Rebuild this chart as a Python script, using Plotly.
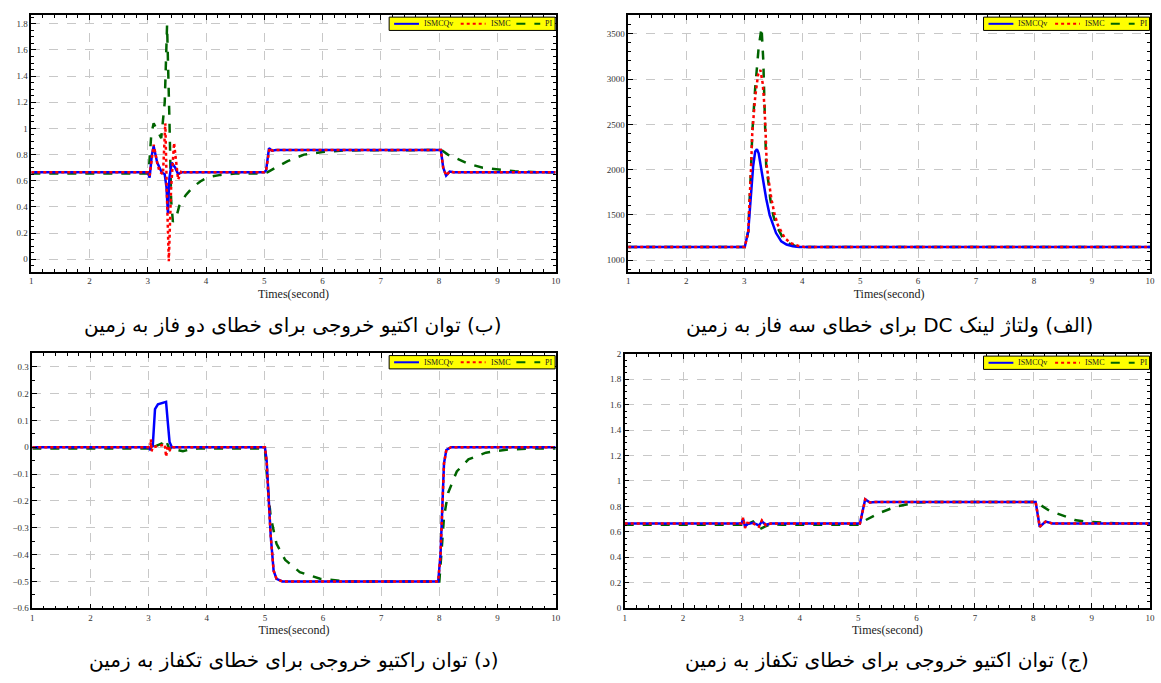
import plotly.graph_objects as go

# ---------------- data ----------------
# (ب) active power, two-phase-to-ground fault
t_b_ismcqv = [1, 3.0, 3.03, 3.07, 3.10, 3.16, 3.24, 3.29, 3.32, 3.345, 3.37, 3.41, 3.47, 3.52, 3.58,
              5.0, 5.03, 5.08, 5.13, 5.2, 8.03, 8.07, 8.12, 8.18, 8.25, 10]
y_b_ismcqv = [0.665, 0.665, 0.625, 0.80, 0.864, 0.74, 0.663, 0.65, 0.55, 0.35, 0.62, 0.738, 0.70, 0.65, 0.665,
              0.665, 0.68, 0.85, 0.83, 0.835, 0.835, 0.70, 0.64, 0.67, 0.665, 0.665]
t_b_ismc = [1, 3.0, 3.03, 3.07, 3.10, 3.16, 3.20, 3.26, 3.30, 3.33, 3.36, 3.40, 3.45, 3.52, 3.58, 3.63,
            5.0, 5.03, 5.09, 5.14, 5.2, 8.03, 8.07, 8.12, 8.18, 8.25, 10]
y_b_ismc = [0.665, 0.665, 0.64, 0.80, 0.876, 0.74, 0.67, 0.65, 1.04, 0.45, -0.015, 0.55, 0.889, 0.61, 0.68, 0.665,
            0.665, 0.68, 0.85, 0.83, 0.835, 0.835, 0.70, 0.64, 0.67, 0.665, 0.665]
t_b_pi = [1, 3.0, 3.02, 3.06, 3.10, 3.17, 3.23, 3.29, 3.33, 3.37, 3.40, 3.43, 3.49, 3.54, 3.65, 3.77, 3.9,
          4.03, 4.25, 4.5, 5.0, 5.05, 5.15, 5.4, 5.68, 6.0, 6.4, 7.0, 8.04, 8.15, 8.3, 8.5, 8.75, 9.0,
          9.3, 9.7, 10]
y_b_pi = [0.655, 0.655, 0.70, 0.96, 1.04, 0.975, 0.926, 1.20, 1.79, 1.08, 0.45, 0.286, 0.324, 0.41, 0.49,
          0.55, 0.595, 0.627, 0.645, 0.655, 0.655, 0.665, 0.69, 0.75, 0.80, 0.82, 0.832, 0.835, 0.835,
          0.80, 0.77, 0.73, 0.70, 0.685, 0.672, 0.665, 0.665]

# (الف) DC link voltage, three-phase-to-ground fault
t_a_ismcqv = [1, 3.01, 3.07, 3.11, 3.155, 3.19, 3.22, 3.25, 3.285, 3.33, 3.38, 3.44, 3.50, 3.55, 3.64,
              3.73, 3.84, 3.95, 10]
y_a_ismcqv = [1145, 1145, 1317, 1678, 2039, 2200, 2226, 2180, 2039, 1855, 1678, 1498, 1390, 1300, 1209,
              1173, 1155, 1145, 1145]
t_a_ismc = [1, 3.01, 3.07, 3.10, 3.12, 3.14, 3.19, 3.24, 3.28, 3.32, 3.35, 3.37, 3.39, 3.43, 3.47, 3.52,
            3.58, 3.70, 3.80, 3.93, 4.05, 10]
y_a_ismc = [1145, 1145, 1317, 1678, 2039, 2408, 2800, 3050, 3100, 2950, 2700, 2408, 2039, 1850, 1678, 1520,
            1390, 1245, 1190, 1160, 1145, 1145]
t_a_pi = [1, 3.01, 3.07, 3.10, 3.12, 3.14, 3.19, 3.25, 3.30, 3.33, 3.355, 3.37, 3.38, 3.42, 3.45, 3.50,
          3.55, 3.67, 3.77, 3.87, 4.0, 10]
y_a_pi = [1145, 1145, 1317, 1678, 2039, 2408, 2900, 3350, 3568, 3200, 2700, 2408, 2039, 1850, 1678, 1500,
          1390, 1245, 1185, 1160, 1145, 1145]

# (د) reactive power, single-phase-to-ground fault
t_d_ismcqv = [1, 3.0, 3.03, 3.05, 3.07, 3.09, 3.11, 3.16, 3.24, 3.30, 3.33, 3.36, 3.40,
              5.0, 5.03, 5.06, 5.1, 5.15, 5.2, 5.3, 7.98, 8.02, 8.05, 8.08, 8.12, 8.2, 10]
y_d_ismcqv = [0, 0, -0.011, 0.01, 0, 0.07, 0.142, 0.16, 0.164, 0.169, 0.094, 0.02, 0,
              0, -0.05, -0.18, -0.33, -0.46, -0.49, -0.5, -0.5, -0.4, -0.2, -0.06, -0.01, 0, 0]
t_d_ismc = [1, 3.0, 3.03, 3.04, 3.05, 3.07, 3.28, 3.30, 3.33, 3.37, 3.41,
            5.0, 5.03, 5.06, 5.1, 5.15, 5.2, 5.3, 7.98, 8.02, 8.05, 8.08, 8.12, 8.2, 10]
y_d_ismc = [0, 0, 0, 0.03, -0.015, 0, 0.01, -0.035, 0.005, -0.01, 0,
            0, -0.05, -0.18, -0.33, -0.46, -0.49, -0.5, -0.5, -0.4, -0.2, -0.06, -0.01, 0, 0]
t_d_pi = [1, 3.0, 3.03, 3.07, 3.24, 3.28, 3.31, 3.36, 3.41, 3.5, 3.59, 3.71, 3.85,
          5.0, 5.05, 5.1, 5.2, 5.35, 5.6, 5.95, 6.4, 8.0, 8.04, 8.08, 8.15, 8.3, 8.5, 8.8, 9.2, 9.6, 10]
y_d_pi = [-0.005, -0.005, -0.015, 0, 0.015, 0.03, 0.02, -0.008, 0.003, -0.01, -0.015, -0.008, -0.005,
          -0.005, -0.15, -0.26, -0.36, -0.42, -0.465, -0.49, -0.5, -0.5, -0.38, -0.26, -0.17, -0.09,
          -0.045, -0.02, -0.008, -0.005, -0.005]

# (ج) active power, single-phase-to-ground fault
t_j_ismcqv = [1, 3.0, 3.03, 3.06, 3.1, 3.2, 3.3, 3.35, 3.42, 3.5, 5.0, 5.03, 5.12, 5.2, 5.3,
              8.04, 8.11, 8.21, 8.33, 10]
y_j_ismcqv = [0.665, 0.665, 0.70, 0.64, 0.66, 0.67, 0.65, 0.68, 0.655, 0.665, 0.665, 0.665, 0.855, 0.83,
              0.835, 0.835, 0.64, 0.68, 0.665, 0.665]
t_j_ismc = [1, 3.0, 3.03, 3.06, 3.1, 3.2, 3.3, 3.35, 3.42, 3.5, 5.0, 5.03, 5.12, 5.2, 5.3,
            8.04, 8.11, 8.21, 8.33, 10]
y_j_ismc = [0.665, 0.665, 0.71, 0.63, 0.67, 0.665, 0.64, 0.69, 0.65, 0.665, 0.665, 0.665, 0.855, 0.83,
            0.835, 0.835, 0.64, 0.68, 0.665, 0.665]
t_j_pi = [1, 3.0, 3.05, 3.1, 3.2, 3.31, 3.4, 3.5, 3.7, 5.0, 5.12, 5.375, 5.66, 6.0, 6.4,
          8.04, 8.27, 8.5, 8.73, 8.9, 9.2, 9.5, 10]
y_j_pi = [0.655, 0.655, 0.69, 0.66, 0.68, 0.62, 0.64, 0.66, 0.655, 0.655, 0.69, 0.75, 0.80, 0.83, 0.835,
          0.835, 0.767, 0.73, 0.69, 0.68, 0.67, 0.665, 0.665]

series_names = ["ISMCQv", "ISMC", "PI"]
captions = [
    "(ب) توان اکتیو خروجی برای خطای دو فاز به زمین",
    "(الف) ولتاژ لینک DC برای خطای سه فاز به زمین",
    "(د) توان راکتیو خروجی برای خطای تکفاز به زمین",
    "(ج) توان اکتیو خروجی برای خطای تکفاز به زمین",
]
x_title = "Times(second)"

# ---------------- figure ----------------
W, H = 1161, 683
fig = go.Figure()

panels = [
    ((t_b_ismcqv, y_b_ismcqv, t_b_ismc, y_b_ismc, t_b_pi, y_b_pi), "", (29.5, 557), (10, 270.7),
     [-0.095, 1.868], 0.2, 0.05),
    ((t_a_ismcqv, y_a_ismcqv, t_a_ismc, y_a_ismc, t_a_pi, y_a_pi), "2", (630, 1155), (10, 270.7),
     [873, 3709], 500, 100),
    ((t_d_ismcqv, y_d_ismcqv, t_d_ismc, y_d_ismc, t_d_pi, y_d_pi), "3", (30.5, 557), (353.5, 612.3),
     [-0.6, 0.35], 0.1, 0.05),
    ((t_j_ismcqv, y_j_ismcqv, t_j_ismc, y_j_ismc, t_j_pi, y_j_pi), "4", (626.5, 1155), (354, 612),
     [0, 2], 0.2, 0.05),
]

blue = "#0000ff"
red = "#ff0000"
green = "#006400"
colors = [blue, red, green]
dashes = ["solid", "dot", "dash"]
tick_font = dict(family="Liberation Serif", size=9, color="#333333")

annotations = []
shapes = []
layout_upd = {}
for i, (d, s, (x0, x1), (yt, yb), yr, ydt, ymin) in enumerate(panels):
    tq, yq, tm, ym, tp, yp = d
    xa = "x" + s
    ya = "y" + s
    fig.add_trace(go.Scatter(x=tp, y=yp, mode="lines", name=series_names[2], xaxis=xa, yaxis=ya,
                             showlegend=False, line=dict(color=green, width=2.5, dash="dash")))
    fig.add_trace(go.Scatter(x=tq, y=yq, mode="lines", name=series_names[0], xaxis=xa, yaxis=ya,
                             showlegend=False, line=dict(color=blue, width=2.5)))
    fig.add_trace(go.Scatter(x=tm, y=ym, mode="lines", name=series_names[1], xaxis=xa, yaxis=ya,
                             showlegend=False, line=dict(color=red, width=2.5, dash="dot")))

    xd = [x0 / W, x1 / W]
    yd = [1 - yb / H, 1 - yt / H]
    axis_common = dict(showline=True, linecolor="black", linewidth=1.5, mirror="allticks",
                       ticks="inside", ticklen=5, tickcolor="black", tickwidth=1,
                       showgrid=True, gridcolor="#c8c8c8", griddash="dash", gridwidth=1,
                       zeroline=False, tickfont=tick_font)
    layout_upd["xaxis" + s] = dict(domain=xd, range=[1, 10], dtick=1, tick0=1, anchor=ya,
                                   minor=dict(dtick=0.2, ticks="inside", ticklen=3, tickcolor="black",
                                              showgrid=False),
                                   title=dict(text=x_title, standoff=4,
                                              font=dict(family="Liberation Serif", size=12, color="#222")),
                                   **axis_common)
    layout_upd["yaxis" + s] = dict(domain=yd, range=yr, dtick=ydt, tick0=0, anchor=xa,
                                   minor=dict(dtick=ymin, ticks="inside", ticklen=3, tickcolor="black",
                                              showgrid=False),
                                   **axis_common)

    # legend box (yellow, black border) in the top-right corner of the panel
    R = x1 - 0.5
    T = yt + 2.3
    def px(x):
        return x / W
    def py(y):
        return 1 - y / H
    shapes.append(dict(type="rect", xref="paper", yref="paper", x0=px(R - 167), x1=px(R),
                       y0=py(T + 13.5), y1=py(T), fillcolor="#ffff00",
                       line=dict(color="black", width=1), layer="above"))
    ly = T + 6.8
    for k, (ls, le, tx) in enumerate([(162, 137, 134), (95, 70, 67), (39, 15, 12)]):
        shapes.append(dict(type="line", xref="paper", yref="paper", x0=px(R - ls), x1=px(R - le),
                           y0=py(ly), y1=py(ly), layer="above",
                           line=dict(color=colors[k], width=2, dash=dashes[k])))
        annotations.append(dict(text=series_names[k], xref="paper", yref="paper",
                                x=px(R - tx), y=py(ly), xanchor="left", yanchor="middle",
                                showarrow=False,
                                font=dict(family="Liberation Serif", size=8, color="#222")))

    cy = 325 if i < 2 else 665
    annotations.append(dict(text="\u202b" + captions[i] + "\u202c", xref="paper", yref="paper",
                            x=(x0 + x1) / 2 / W, y=1 - cy / H, xanchor="center", yanchor="middle",
                            showarrow=False,
                            font=dict(family="DejaVu Sans", size=20, color="black")))

fig.update_layout(**layout_upd)
fig.update_layout(width=W, height=H, margin=dict(l=0, r=0, t=0, b=0),
                  paper_bgcolor="white", plot_bgcolor="white",
                  annotations=annotations, shapes=shapes, showlegend=False)

fig.write_html("out.html")
